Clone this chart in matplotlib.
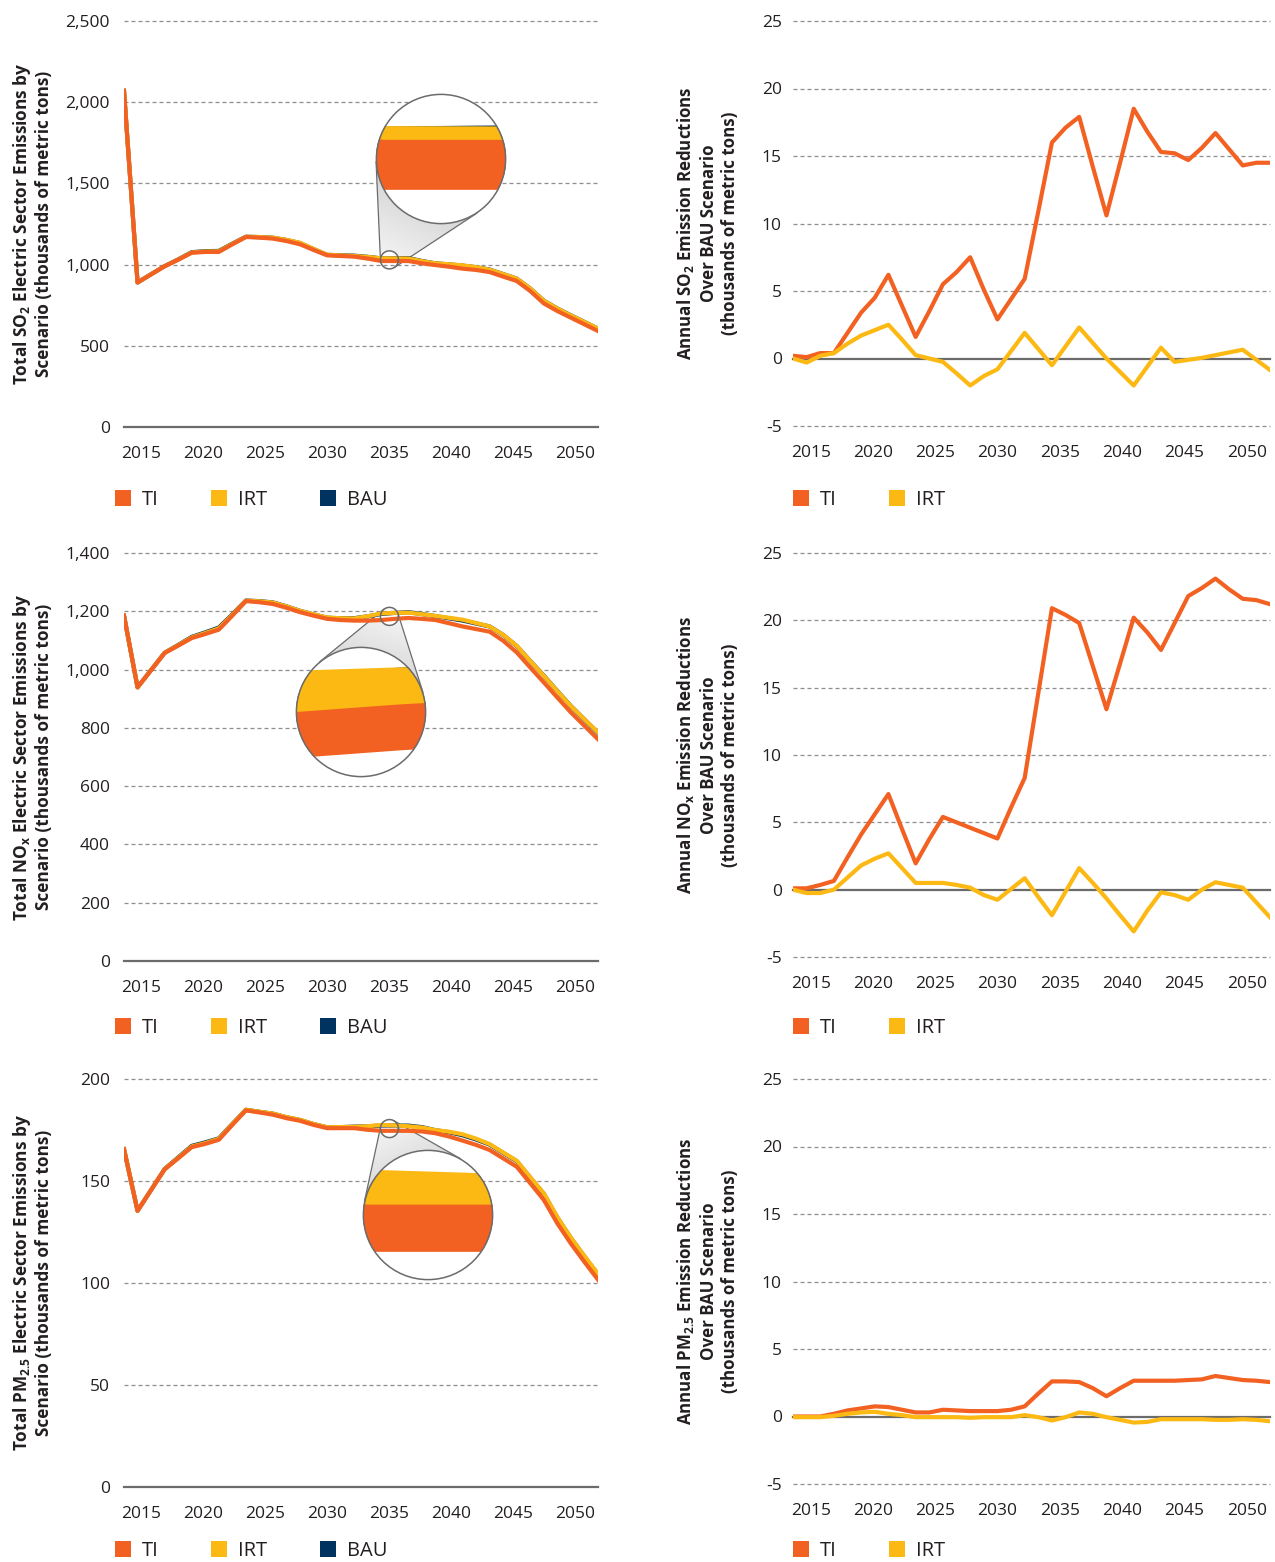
import numpy as np
import matplotlib
matplotlib.use("Agg")
import matplotlib.pyplot as plt
from matplotlib.patches import Polygon, Circle, Patch
from matplotlib.colors import LinearSegmentedColormap

plt.rcParams['font.family'] = ['Open Sans', 'DejaVu Sans']
plt.rcParams['mathtext.fontset'] = 'custom'
plt.rcParams['mathtext.rm'] = 'Open Sans:bold'
plt.rcParams['mathtext.it'] = 'Open Sans:bold'
plt.rcParams['mathtext.bf'] = 'Open Sans:bold'

# ---- data (thousands of metric tons) ----
years = np.arange(2015, 2051)
year_labels = ['2015', '2020', '2025', '2030', '2035', '2040', '2045', '2050']

so2_ti = [2070, 890, 940, 990, 1030, 1073, 1078, 1078, 1125, 1170, 1166, 1160,
          1145, 1125, 1090, 1057, 1053, 1049, 1037, 1022, 1022, 1022, 1008, 997,
          987, 975, 967, 954, 926, 899, 837, 761, 714, 673, 632, 591]
so2_ti_red = [0.2, 0.1, 0.4, 0.4, 1.9, 3.4, 4.5, 6.2, 3.9, 1.6, 3.5, 5.5,
              6.4, 7.5, 5.1, 2.9, 4.4, 5.9, 10.9, 16.0, 17.1, 17.9, 14.2, 10.6,
              14.5, 18.5, 16.8, 15.3, 15.2, 14.7, 15.6, 16.7, 15.5, 14.3, 14.5, 14.5]
so2_irt_red = [0.0, -0.3, 0.2, 0.4, 1.1, 1.7, 2.1, 2.5, 1.4, 0.25, 0.0, -0.25,
               -1.1, -2.0, -1.3, -0.8, 0.55, 1.9, 0.7, -0.5, 0.9, 2.3, 1.15, 0.0,
               -1.0, -2.0, -0.6, 0.8, -0.25, -0.1, 0.05, 0.25, 0.45, 0.65, -0.1, -0.85]

nox_ti = [1185, 939, 998, 1057, 1082, 1108, 1122, 1137, 1185, 1235, 1231, 1225,
          1212, 1197, 1185, 1174, 1170, 1168, 1168, 1170, 1174, 1177, 1174, 1170,
          1159, 1148, 1139, 1130, 1099, 1059, 1007, 956, 904, 853, 807, 761]
nox_ti_red = [0.1, 0.1, 0.35, 0.65, 2.4, 4.1, 5.6, 7.1, 4.5, 1.95, 3.75, 5.4,
              5.0, 4.6, 4.2, 3.8, 6.1, 8.3, 14.6, 20.9, 20.4, 19.8, 16.6, 13.4,
              16.8, 20.2, 19.1, 17.8, 19.8, 21.8, 22.4, 23.1, 22.3, 21.6, 21.5, 21.2]
nox_irt_red = [0.0, -0.25, -0.25, 0.0, 0.9, 1.8, 2.3, 2.7, 1.6, 0.5, 0.5, 0.5,
               0.35, 0.15, -0.4, -0.75, 0.05, 0.85, -0.55, -1.9, -0.15, 1.6, 0.5, -0.65,
               -1.9, -3.1, -1.55, -0.2, -0.4, -0.75, 0.0, 0.55, 0.35, 0.15, -0.95, -2.05]

pm_ti = [165.6, 135.4, 145.6, 155.7, 161.1, 166.6, 168.2, 170.2, 177.5, 184.6, 183.6, 182.5,
         180.8, 179.5, 177.5, 175.9, 175.9, 175.9, 175.1, 174.6, 174.6, 174.6, 174.3, 173.4,
         171.8, 169.8, 167.7, 165.2, 161.1, 157.0, 148.9, 140.7, 129.2, 119.3, 110.3, 101.6]
pm_ti_red = [0.0, 0.0, 0.0, 0.2, 0.45, 0.6, 0.75, 0.7, 0.5, 0.3, 0.3, 0.5,
             0.45, 0.4, 0.4, 0.4, 0.5, 0.75, 1.7, 2.6, 2.6, 2.55, 2.1, 1.5,
             2.1, 2.65, 2.65, 2.65, 2.65, 2.7, 2.75, 3.0, 2.85, 2.7, 2.65, 2.55]
pm_irt_red = [-0.05, -0.05, -0.05, 0.05, 0.2, 0.3, 0.35, 0.2, 0.1, -0.05, -0.05, -0.05,
              -0.05, -0.1, -0.05, -0.05, -0.05, 0.1, -0.05, -0.3, -0.05, 0.3, 0.2, -0.05,
              -0.25, -0.45, -0.4, -0.2, -0.2, -0.2, -0.2, -0.25, -0.25, -0.2, -0.25, -0.35]

# ---- style ----
TI_COL = '#F26122'
IRT_COL = '#FDB913'
BAU_COL = '#00335F'
GRID_COL = '#8e8e8e'
ZERO_COL = '#6b6b6b'
TXT = '#231f20'
LW = 3.0

W, H = 1275, 1562
fig = plt.figure(figsize=(W / 100, H / 100), dpi=100)
tick_pos = np.linspace(2016.3, 2048.3, 8)


def rect(x0, y0, x1, y1):
    return [x0 / W, 1 - y1 / H, (x1 - x0) / W, (y1 - y0) / H]


def style(ax, yticks, fmt, ypad):
    ax.set_xlim(2015, 2050)
    ax.set_ylim(yticks[0], yticks[-1])
    for s in ax.spines.values():
        s.set_visible(False)
    ax.set_xticks(tick_pos)
    ax.set_xticklabels(year_labels)
    ax.set_yticks(yticks)
    ax.set_yticklabels([fmt(v) for v in yticks])
    ax.tick_params(axis='both', length=0, labelsize=12.5, labelcolor=TXT)
    ax.tick_params(axis='x', pad=14)
    ax.tick_params(axis='y', pad=ypad)
    for v in yticks:
        if v == 0:
            ax.axhline(0, color=ZERO_COL, lw=1.6, zorder=1.2, clip_on=False)
        else:
            ax.axhline(v, color=GRID_COL, lw=0.9, ls=(0, (3.2, 2.4)), zorder=0.5,
                       clip_on=False)


def legend(ax, labels, colors, x, y):
    hs = [Patch(facecolor=c, edgecolor='none', label=l) for l, c in zip(labels, colors)]
    ax.legend(handles=hs, loc='center left', bbox_to_anchor=(x / W, 1 - y / H),
              bbox_transform=fig.transFigure, ncol=len(hs), frameon=False,
              fontsize=14.5, labelcolor=TXT, handlelength=0.8, handleheight=0.8,
              handletextpad=0.55, columnspacing=2.6, borderpad=0, borderaxespad=0)


def to_data(ax, pts):
    pts = np.atleast_2d(pts)
    disp = np.column_stack([pts[:, 0], H - pts[:, 1]])
    return ax.transData.inverted().transform(disp)


cone_cmap = LinearSegmentedColormap.from_list('cone', ['#f3f3f3', '#c4c4c4'])


def magnifier(ax, series, spec):
    xl, yl = ax.get_xlim(), ax.get_ylim()
    ax.set_autoscale_on(False)
    d = ax.transData.transform((spec['x'], spec['y']))
    c1 = np.array([d[0], H - d[1]])
    c2 = np.array(spec['big'], float)
    r1, r2 = 9.0, 65.0
    vec = c2 - c1
    dist = np.hypot(*vec)
    base = np.arctan2(vec[1], vec[0])
    th = np.arccos((r1 - r2) / dist)
    ap, am = base + th, base - th
    pp = c1 + r1 * np.array([np.cos(ap), np.sin(ap)])
    pm = c1 + r1 * np.array([np.cos(am), np.sin(am)])
    qp = c2 + r2 * np.array([np.cos(ap), np.sin(ap)])
    qm = c2 + r2 * np.array([np.cos(am), np.sin(am)])
    arc = np.linspace(am, ap, 60)
    arc_pts = c1 + r1 * np.column_stack([np.cos(arc), np.sin(arc)])
    cone_px = np.vstack([pp, qp, qm, pm, arc_pts])
    cone = Polygon(to_data(ax, cone_px), closed=True, facecolor='none',
                   edgecolor='none', transform=ax.transData)
    ax.add_patch(cone)
    x0, y0 = cone_px.min(axis=0)
    x1, y1 = cone_px.max(axis=0)
    gx, gy = np.meshgrid(np.linspace(x0, x1, 160), np.linspace(y0, y1, 160))
    t = ((gx - c1[0]) * vec[0] + (gy - c1[1]) * vec[1]) / dist ** 2
    lo = to_data(ax, (x0, y1))[0]
    hi = to_data(ax, (x1, y0))[0]
    im = ax.imshow(np.clip(t, 0, 1), cmap=cone_cmap, vmin=0, vmax=1, origin='upper',
                   extent=(lo[0], hi[0], lo[1], hi[1]), aspect='auto',
                   interpolation='bilinear', zorder=1)
    im.set_clip_path(cone)
    for a, b in ((pp, qp), (pm, qm)):
        seg = to_data(ax, np.vstack([a, b]))
        ax.plot(seg[:, 0], seg[:, 1], color='#6b6b6b', lw=0.9, zorder=1.1)
    ang = np.linspace(0, 2 * np.pi, 100)
    ring = to_data(ax, c1 + r1 * np.column_stack([np.cos(ang), np.sin(ang)]))
    ax.plot(ring[:, 0], ring[:, 1], color='#6b6b6b', lw=1.1, zorder=3)
    ax.set_xlim(xl)
    ax.set_ylim(yl)

    ins = fig.add_axes(rect(c2[0] - r2, c2[1] - r2, c2[0] + r2, c2[1] + r2), zorder=5)
    ins.axis('off')
    disc = Circle((0.5, 0.5), 0.5, transform=ins.transAxes, facecolor='white',
                  edgecolor='none', zorder=0)
    ins.add_patch(disc)
    for vals, col in series:
        ln, = ins.plot(years, vals, color=col, lw=spec['lw'], solid_capstyle='butt')
        ln.set_clip_path(disc)
    ins.set_xlim(spec['x'] - 0.66, spec['x'] + 0.66)
    ins.set_ylim(spec['y'] - spec['half_y'], spec['y'] + spec['half_y'])
    ins.add_patch(Circle((0.5, 0.5), 0.497, transform=ins.transAxes, fill=False,
                         edgecolor='#6b6b6b', lw=1.1, zorder=10, clip_on=False))


def total_panel(box, ti, ti_red, irt_red, yticks, ylabel, leg_y, zspec):
    ax = fig.add_axes(rect(*box))
    ti = np.array(ti, float)
    bau = ti + np.array(ti_red)
    irt = bau - np.array(irt_red)
    series = [(bau, BAU_COL), (irt, IRT_COL), (ti, TI_COL)]
    for i, (vals, col) in enumerate(series):
        ax.plot(years, vals, color=col, lw=LW, zorder=2 + 0.1 * i)
    style(ax, yticks, lambda v: f'{v:,}', 10)
    magnifier(ax, series, zspec)
    fig.text(32 / W, 1 - (box[1] + box[3]) / 2 / H, ylabel, rotation=90, ha='center',
             va='center', fontsize=12.4, fontweight='bold', color=TXT,
             linespacing=1.2, multialignment='center')
    legend(ax, ['TI', 'IRT', 'BAU'], [TI_COL, IRT_COL, BAU_COL], 115, leg_y)


def reduction_panel(box, ti_red, irt_red, ylabel, leg_y):
    ax = fig.add_axes(rect(*box))
    ax.plot(years, ti_red, color=TI_COL, lw=LW, zorder=2)
    ax.plot(years, irt_red, color=IRT_COL, lw=LW, zorder=2.1)
    style(ax, [-5, 0, 5, 10, 15, 20, 25], lambda v: f'{v}', 8)
    fig.text(707 / W, 1 - (box[1] + box[3]) / 2 / H, ylabel, rotation=90, ha='center',
             va='center', fontsize=12.2, fontweight='bold', color=TXT,
             linespacing=1.22, multialignment='center')
    legend(ax, ['TI', 'IRT'], [TI_COL, IRT_COL], 793, leg_y)


total_panel((124, 21, 598, 427), so2_ti, so2_ti_red, so2_irt_red,
            [0, 500, 1000, 1500, 2000, 2500],
            'Total SO$_2$ Electric Sector Emissions by\nScenario (thousands of metric tons)',
            500, dict(x=2034.6, y=1029, half_y=78, big=(441, 159), lw=36))
total_panel((124, 553, 598, 961), nox_ti, nox_ti_red, nox_irt_red,
            [0, 200, 400, 600, 800, 1000, 1200, 1400],
            'Total NO$_\\mathrm{x}$ Electric Sector Emissions by\nScenario (thousands of metric tons)',
            1028, dict(x=2034.6, y=1182.5, half_y=36, big=(361, 712), lw=33))
total_panel((124, 1079, 598, 1487), pm_ti, pm_ti_red, pm_irt_red,
            [0, 50, 100, 150, 200],
            'Total PM$_{2.5}$ Electric Sector Emissions by\nScenario (thousands of metric tons)',
            1551, dict(x=2034.6, y=175.7, half_y=5.4, big=(428, 1215), lw=34))

reduction_panel((793, 21, 1270, 426), so2_ti_red, so2_irt_red,
                'Annual SO$_2$ Emission Reductions\nOver BAU Scenario\n(thousands of metric tons)', 500)
reduction_panel((793, 553, 1270, 957), nox_ti_red, nox_irt_red,
                'Annual NO$_\\mathrm{x}$ Emission Reductions\nOver BAU Scenario\n(thousands of metric tons)', 1028)
reduction_panel((793, 1079, 1270, 1484), pm_ti_red, pm_irt_red,
                'Annual PM$_{2.5}$ Emission Reductions\nOver BAU Scenario\n(thousands of metric tons)', 1551)

fig.savefig('out.png', dpi=100)
